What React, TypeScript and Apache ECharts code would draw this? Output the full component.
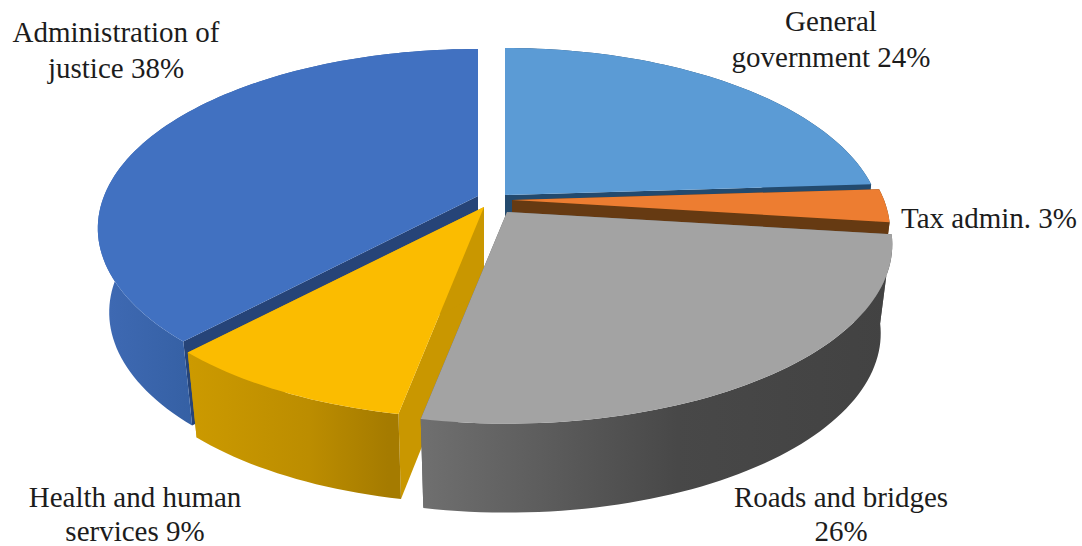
import React, { useEffect, useRef } from "react";
import * as echarts from "echarts";

// Budget shares, in percent, clockwise from twelve o'clock.
const categories = ["General government", "Tax admin.", "Roads and bridges", "Health and human services", "Administration of justice"];
const shares = [24, 3, 26, 9, 38];
const labelTemplates = ["General\ngovernment {v}%", "Tax admin. {v}%", "Roads and bridges\n{v}%", "Health and human\nservices {v}%", "Administration of\njustice {v}%"];

// Back-to-front painting sequence of the wedges.
const paintOrder = [0, 1, 4, 3, 2];

// Per-wedge look: exploded apex, radius, thickness and colours.
const wedgeStyles = [
  { ax: 505, ay: 195, r: 371, h: 88, top: "#5B9BD5", side: "#234A6E", wall: [[0, "#234A6E"], [1, "#234A6E"]], wx: [505, 880] },
  { ax: 512, ay: 200, r: 372, h: 88, top: "#ED7D31", side: "#663A12", wall: [[0, "#663A12"], [1, "#663A12"]], wx: [512, 890] },
  { ax: 507, ay: 212, r: 379, h: 89, top: "#A3A3A3", side: "#636363", wall: [[0, "#707070"], [0.55, "#484848"], [1, "#424242"]], wx: [417, 890] },
  { ax: 484, ay: 207, r: 376, h: 85, top: "#FBBC00", side: "#C99700", wall: [[0, "#CC9A00"], [0.6, "#BC8D00"], [1, "#A57B00"]], wx: [189, 388] },
  { ax: 478, ay: 196, r: 374, h: 84, top: "#4171C1", side: "#264478", wall: [[0, "#3F6AB4"], [1, "#3560A4"]], wx: [100, 192] },
];

const labelPlacements = [
  { x: 831, y: 39, lh: 36 },
  { x: 989, y: 218, lh: 36 },
  { x: 841, y: 514, lh: 34 },
  { x: 135, y: 514, lh: 34 },
  { x: 116, y: 50, lh: 36 },
];

const PERSPECTIVE = 0.18;
const TILT_RADIUS = 173.5;
const BASE_SCALE = 0.97;
const ARC_STEP = Math.PI / 120;

const cumulative: number[] = [];
shares.reduce((sum, v, i) => {
  cumulative[i] = sum;
  return sum + v;
}, 0);
const total = shares.reduce((a, b) => a + b, 0);

const seriesData = paintOrder.map((i) => ({
  name: categories[i],
  value: [shares[i], cumulative[i], i],
}));

// Maps a rim angle onto the page; the lower rim sits a fixed drop below and slightly inward.
function project(w: any, t: number, lower: boolean): number[] {
  const c = Math.cos(t);
  const s = Math.sin(t);
  const p = 1 / (1 + PERSPECTIVE * c);
  return [
    w.ax + w.r * s * p * (lower ? BASE_SCALE : 1),
    w.ay - TILT_RADIUS * c * p + (lower ? w.h : 0),
  ];
}

function apex(w: any, lower: boolean): number[] {
  return [w.ax, w.ay + (lower ? w.h : 0)];
}

function arc(w: any, a0: number, a1: number, lower: boolean): number[][] {
  const pts: number[][] = [];
  const n = Math.max(2, Math.ceil((a1 - a0) / ARC_STEP));
  for (let k = 0; k <= n; k++) pts.push(project(w, a0 + ((a1 - a0) * k) / n, lower));
  return pts;
}

function renderWedge(_params: any, api: any) {
  const share = api.value(0);
  const start = api.value(1);
  const w = wedgeStyles[api.value(2)];
  const a0 = (start / total) * Math.PI * 2;
  const a1 = ((start + share) / total) * Math.PI * 2;
  const topArc = arc(w, a0, a1, false);
  const lowArc = arc(w, a0, a1, true);
  const poly = (points: number[][], fill: any) => ({
    type: "polygon",
    shape: { points },
    style: { fill, stroke: "none" },
  });
  const wallFill = new echarts.graphic.LinearGradient(
    w.wx[0], 0, w.wx[1], 0,
    w.wall.map(([offset, color]: any) => ({ offset, color })),
    true
  );
  return {
    type: "group",
    children: [
      poly([apex(w, false), topArc[0], lowArc[0], apex(w, true)], w.side),
      poly([apex(w, false), topArc[topArc.length - 1], lowArc[lowArc.length - 1], apex(w, true)], w.side),
      poly([...topArc, ...lowArc.slice().reverse()], wallFill),
      poly([apex(w, false), ...topArc], w.top),
    ],
  };
}

const textColor = "#1c1c1c";

export default function App() {
  const ref = useRef<HTMLDivElement>(null);
  useEffect(() => {
    document.body.style.margin = "0";
    const chart = echarts.init(ref.current!, undefined, { renderer: "svg" });
    chart.setOption({
      animation: false,
      backgroundColor: "#ffffff",
      series: [
        {
          type: "custom",
          coordinateSystem: "none",
          silent: true,
          clip: false,
          data: seriesData,
          renderItem: renderWedge,
        },
      ],
      graphic: labelTemplates.map((tpl, i) => ({
        type: "text",
        x: labelPlacements[i].x,
        y: labelPlacements[i].y,
        silent: true,
        style: {
          text: tpl.replace("{v}", String(shares[i])),
          font: '29px "Liberation Serif"',
          fill: textColor,
          align: "center",
          verticalAlign: "middle",
          lineHeight: labelPlacements[i].lh,
        },
      })),
    });
    return () => chart.dispose();
  }, []);
  return <div ref={ref} style={{ width: 1082, height: 546 }} />;
}
